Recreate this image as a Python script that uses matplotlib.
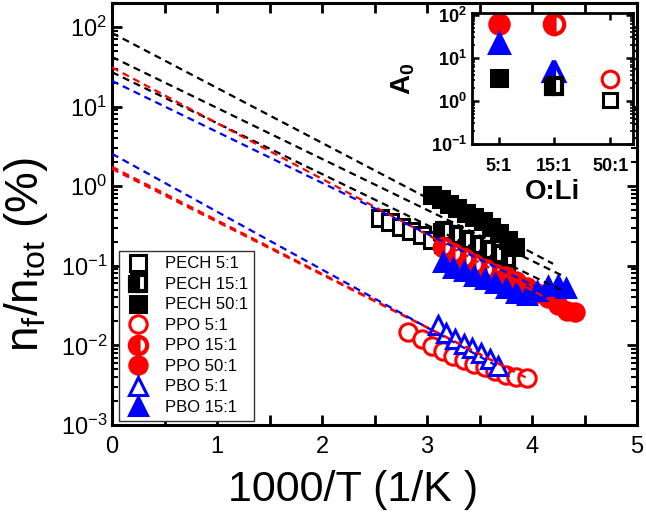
import matplotlib.pyplot as plt
from matplotlib.ticker import LogLocator, MultipleLocator, NullFormatter

plt.rcParams['font.family'] = ['Liberation Sans', 'DejaVu Sans']
plt.rcParams['mathtext.fontset'] = 'custom'
plt.rcParams['mathtext.rm'] = 'Liberation Sans'
plt.rcParams['mathtext.it'] = 'Liberation Sans:italic'
plt.rcParams['mathtext.bf'] = 'Liberation Sans:bold'

# --- main data ---
pech5_x = [2.55, 2.65, 2.75, 2.85, 2.95, 3.05, 3.15, 3.25, 3.35, 3.45, 3.55, 3.65, 3.75]
pech5_y = [0.40, 0.35, 0.31, 0.27, 0.24, 0.21, 0.19, 0.175, 0.16, 0.145, 0.13, 0.12, 0.11]
pech15_x = [3.15, 3.25, 3.35, 3.45, 3.55, 3.65, 3.75]
pech15_y = [0.27, 0.24, 0.21, 0.18, 0.16, 0.14, 0.125]
pech50_x = [3.05, 3.13, 3.21, 3.29, 3.37, 3.45, 3.53, 3.61, 3.69, 3.77, 3.84]
pech50_y = [0.78, 0.68, 0.60, 0.53, 0.46, 0.41, 0.36, 0.31, 0.26, 0.21, 0.17]
ppo5_x = [2.82, 2.95, 3.05, 3.15, 3.25, 3.35, 3.45, 3.55, 3.65, 3.75, 3.85, 3.95]
ppo5_y = [0.0148, 0.012, 0.0098, 0.0085, 0.0074, 0.0066, 0.0059, 0.0053, 0.0048, 0.0043, 0.0040, 0.0039]
ppo15_x = [3.15, 3.25, 3.35, 3.45, 3.55, 3.65, 3.75, 3.85, 3.95]
ppo15_y = [0.17, 0.145, 0.125, 0.105, 0.09, 0.078, 0.066, 0.057, 0.05]
ppo50_x = [3.75, 3.85, 3.95, 4.05, 4.15, 4.25, 4.33, 4.41]
ppo50_y = [0.075, 0.064, 0.054, 0.046, 0.039, 0.032, 0.027, 0.026]
pbo5_x = [3.10, 3.18, 3.27, 3.35, 3.43, 3.51, 3.60, 3.68]
pbo5_y = [0.018, 0.0145, 0.012, 0.0105, 0.0092, 0.0080, 0.0068, 0.0055]
pbo15_x = [3.15, 3.25, 3.35, 3.45, 3.55, 3.65, 3.75, 3.85, 3.95, 4.05, 4.15, 4.25, 4.32]
pbo15_y = [0.11, 0.095, 0.085, 0.075, 0.068, 0.06, 0.052, 0.046, 0.043, 0.048, 0.055, 0.058, 0.052]

labels = ['PECH 5:1', 'PECH 15:1', 'PECH 50:1', 'PPO 5:1', 'PPO 15:1', 'PPO 50:1',
          'PBO 5:1', 'PBO 15:1']

# fit lines: value at x=0 and end point
fit_color = ['k', 'k', 'k', 'r', 'b', 'r', 'r', 'b']
fit_y0 = [84, 42, 27, 31, 21, 1.65, 1.75, 2.55]
fit_x1 = [4.2, 4.3, 4.3, 4.4, 4.3, 3.95, 3.9, 3.7]
fit_y1 = [0.106, 0.074, 0.048, 0.0258, 0.037, 0.0039, 0.0042, 0.0052]

# inset data
inset_cats = ['5:1', '15:1', '50:1']
a0_ppo = [62, 62, 3.2]
a0_pbo = [22, 5.0]
a0_pech = [3.4, 2.2, 1.05]

RED = '#ff0000'
BLUE = '#0000ff'

fig = plt.figure(figsize=(6.46, 5.14), dpi=100)
ax = fig.add_axes([0.1734, 0.1732, 0.8127, 0.821])


def mk(marker, color, fill, ms=12.5, mew=2.2):
    d = dict(marker=marker, linestyle='none', ms=ms, mew=mew, mec=color, color=color)
    if fill == 'open':
        d['mfc'] = 'white'
    elif fill == 'half':
        d['mfc'] = color
        d['fillstyle'] = 'left'
        d['markerfacecoloralt'] = 'white'
        d['mew'] = mew + 0.8
    else:
        d['mfc'] = color
    return d


styles = [mk('s', 'k', 'open', 11.5), mk('s', 'k', 'half', 11.5), mk('s', 'k', 'full', 11.5),
          mk('o', RED, 'open'), mk('o', RED, 'half'), mk('o', RED, 'full'),
          mk('^', BLUE, 'open', 13), mk('^', BLUE, 'full', 13)]
xs = [pech5_x, pech15_x, pech50_x, ppo5_x, ppo15_x, ppo50_x, pbo5_x, pbo15_x]
ys = [pech5_y, pech15_y, pech50_y, ppo5_y, ppo15_y, ppo50_y, pbo5_y, pbo15_y]

handles = []
for x, y, st, lab in zip(xs, ys, styles, labels):
    h, = ax.plot(x, y, label=lab, zorder=3, **st)
    handles.append(h)

for c, y0, x1, y1 in zip(fit_color, fit_y0, fit_x1, fit_y1):
    ax.plot([0, x1], [y0, y1], color=c, lw=1.6, dashes=(3.2, 2.2), zorder=4)

ax.set_yscale('log')
ax.set_xlim(0, 5)
ax.set_ylim(1e-3, 200)
ax.xaxis.set_major_locator(MultipleLocator(1))
ax.xaxis.set_minor_locator(MultipleLocator(0.5))
ax.yaxis.set_major_locator(LogLocator(base=10, numticks=10))
ax.yaxis.set_minor_locator(LogLocator(base=10, subs=range(2, 10), numticks=10))
ax.yaxis.set_minor_formatter(NullFormatter())
ax.tick_params(which='both', direction='in', top=True, right=True, width=2, labelsize=17)
ax.tick_params(which='major', length=7)
ax.tick_params(axis='y', which='minor', length=4, width=1.5)
ax.tick_params(axis='x', which='minor', length=7, width=2)
ax.tick_params(axis='x', pad=8)
for s in ax.spines.values():
    s.set_linewidth(2.2)

ax.set_xlabel('1000/T (1/K )', fontsize=31)
ax.xaxis.set_label_coords(0.46, -0.155, transform=ax.transAxes)
ax.xaxis.label.set_va('center')
ax.set_ylabel(r'n$_\mathregular{f}$/n$_\mathregular{tot}$ (%)', fontsize=33)
ax.yaxis.set_label_coords(-0.163, 0.405, transform=ax.transAxes)
ax.yaxis.label.set_va('center')

leg = ax.legend(handles=handles, loc='lower left', bbox_to_anchor=(0.014, 0.01),
                fontsize=12, frameon=True, fancybox=False, edgecolor='#333333',
                framealpha=1, handlelength=1.5, handletextpad=0.9, labelspacing=0.33,
                borderpad=0.35, borderaxespad=0)
leg.get_frame().set_linewidth(1.0)

# inset
ins = fig.add_axes([0.7307, 0.7198, 0.249, 0.2549])
ix = [1, 2, 3]
ins.plot(ix[0], a0_ppo[0], **mk('o', RED, 'full', 14))
ins.plot(ix[1], a0_ppo[1], **mk('o', RED, 'half', 14))
ins.plot(ix[2], a0_ppo[2], **mk('o', RED, 'open', 12))
ins.plot(ix[0], a0_pbo[0], **mk('^', BLUE, 'full', 15))
ins.plot(ix[1], a0_pbo[1], **mk('^', BLUE, 'half', 15))
ins.plot(ix[0], a0_pech[0], **mk('s', 'k', 'full', 11.5))
ins.plot(ix[1], a0_pech[1], **mk('s', 'k', 'half', 11))
ins.plot(ix[2], a0_pech[2], **mk('s', 'k', 'open', 10.5))
ins.set_yscale('log')
ins.set_xlim(0.52, 3.41)
ins.set_ylim(0.1, 110)
ins.set_xticks(ix)
ins.set_xticklabels(inset_cats)
ins.yaxis.set_major_locator(LogLocator(base=10, numticks=10))
ins.yaxis.set_minor_locator(LogLocator(base=10, subs=range(2, 10), numticks=10))
ins.yaxis.set_minor_formatter(NullFormatter())
ins.tick_params(which='both', direction='in', top=True, right=True, width=1.8, labelsize=13)
ins.tick_params(which='major', length=5)
ins.tick_params(which='minor', length=2.5, width=1.2)
ins.tick_params(axis='x', pad=10)
for lab in ins.get_xticklabels() + ins.get_yticklabels():
    lab.set_fontweight('bold')
for s in ins.spines.values():
    s.set_linewidth(2)
ins.set_xlabel('O:Li', fontsize=20, fontweight='bold', labelpad=3)
ins.set_ylabel(r'A$_\mathbf{0}$', fontsize=20, fontweight='bold', labelpad=10)

fig.savefig('out.png', dpi=100)
